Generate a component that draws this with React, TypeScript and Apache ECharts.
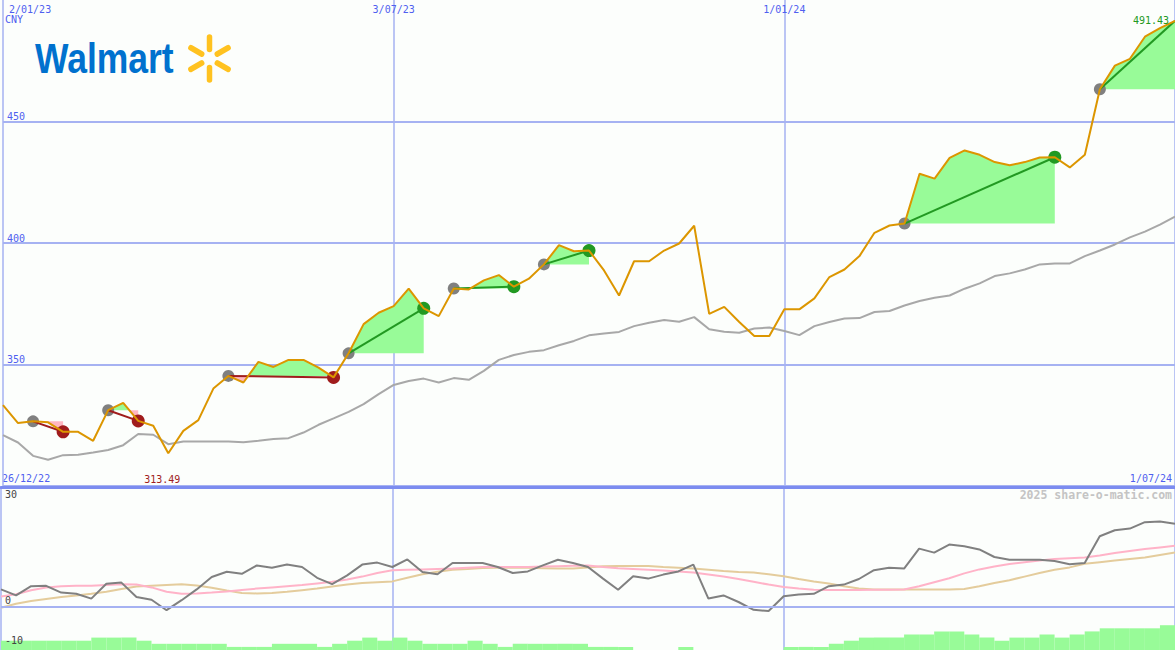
import React, { useEffect, useRef } from "react";
import * as echarts from "echarts";

// ---------- data ----------
const lastWeek = 78;
const tickWeeks = [0, 26, 52];
const topTickLabels = ["2/01/23", "3/07/23", "1/01/24"];
const startLabel = "26/12/22";
const endLabel = "1/07/24";
const currency = "CNY";
const watermark = "2025 share-o-matic.com";

const price = [
  333.3, 325.9, 326.6, 326.2, 322.3, 322.3, 318.6, 331.2, 334.2, 326.8,
  324.8, 313.49, 322.7, 327.1, 340.1, 345.3, 342.6, 351.1, 349.0, 351.9,
  351.9, 348.7, 344.7, 354.6, 366.6, 371.3, 374.0, 381.2, 373.1, 369.9,
  381.3, 380.9, 384.6, 386.8, 382.0, 385.3, 391.2, 399.1, 396.6, 396.9,
  388.7, 378.4, 392.5, 392.5, 396.9, 399.8, 407.1, 370.8, 373.7, 367.5,
  361.7, 361.7, 372.7, 372.7, 377.2, 386.0, 389.1, 394.6, 404.2, 407.2,
  408.0, 428.5, 426.5, 435.0, 438.1, 436.3, 433.3, 432.0, 433.3, 435.2,
  435.3, 431.1, 436.3, 463.3, 473.0, 475.8, 484.9, 488.4, 491.43,
];

const movingAvg = [
  320.9, 317.9, 312.4, 310.8, 312.7, 312.9, 313.8, 314.8, 316.8, 321.4,
  321.1, 317.2, 318.3, 318.3, 318.3, 318.3, 318.0, 318.6, 319.3, 319.7,
  322.0, 325.2, 327.8, 330.5, 333.7, 337.8, 341.6, 343.2, 344.2, 342.6,
  344.4, 343.7, 347.4, 351.9, 353.9, 355.2, 355.9, 357.9, 359.7, 362.0,
  362.8, 363.4, 365.8, 367.2, 368.3, 367.6, 369.5, 364.5, 363.5, 363.1,
  364.8, 365.2, 363.8, 362.1, 365.8, 367.5, 368.9, 369.1, 371.6, 372.0,
  374.3, 376.1, 377.5, 378.4, 381.2, 383.4, 386.4, 387.5, 389.1, 391.2,
  391.6, 391.6, 394.6, 396.9, 399.4, 402.3, 404.7, 407.6, 410.9,
];

const oscillator = [
  4.4, 2.9, 5.2, 5.3, 3.6, 3.3, 2.1, 5.8, 6.1, 2.5,
  1.8, -0.8, 1.7, 4.4, 7.5, 8.8, 8.3, 10.4, 9.8, 10.6,
  10.0, 7.3, 5.7, 7.9, 10.6, 11.1, 10.0, 11.9, 8.75, 8.2,
  11.0, 11.0, 11.0, 10.0, 8.5, 8.9, 10.4, 11.8, 11.0, 10.0,
  7.1, 4.3, 7.7, 7.1, 8.1, 8.9, 10.6, 2.1, 2.9, 1.25,
  -0.7, -1.0, 2.7, 3.1, 3.3, 5.2, 5.6, 7.0, 9.2, 9.8,
  9.6, 14.6, 13.6, 15.6, 15.2, 14.4, 12.5, 11.8, 11.8, 11.8,
  11.5, 10.7, 11.0, 17.7, 19.2, 19.6, 21.2, 21.4, 20.8,
];

const oscPink = [
  2.6, 3.2, 4.2, 4.9, 5.2, 5.3, 5.3, 5.5, 5.7, 5.6,
  4.9, 3.8, 3.3, 3.4, 3.6, 3.9, 4.25, 4.6, 4.9, 5.2,
  5.5, 5.9, 6.3, 6.9, 7.6, 8.5, 9.2, 9.3, 9.4, 9.5,
  9.6, 9.8, 10.0, 10.0, 10.0, 10.0, 10.1, 10.2, 10.3, 10.4,
  10.0, 9.7, 9.5, 9.3, 9.1, 8.9, 8.6, 8.1, 7.6, 7.0,
  6.3, 5.6, 5.0, 4.6, 4.3, 4.25, 4.25, 4.25, 4.3, 4.3,
  4.4, 5.2, 6.2, 7.2, 8.4, 9.4, 10.1, 10.75, 11.2, 11.6,
  12.0, 12.2, 12.4, 12.9, 13.5, 14.0, 14.5, 14.9, 15.3,
];

const oscTan = [
  -0.2, 0.8, 1.5, 2.0, 2.5, 2.9, 3.3, 3.8, 4.5, 5.1,
  5.3, 5.5, 5.7, 5.4, 4.8, 4.1, 3.5, 3.4, 3.5, 3.8,
  4.2, 4.6, 5.1, 5.6, 6.0, 6.2, 6.4, 7.3, 8.2, 8.8,
  9.3, 9.5, 9.75, 9.8, 9.8, 9.8, 9.7, 9.6, 9.6, 9.9,
  10.2, 10.25, 10.25, 10.25, 10.0, 9.8, 9.6, 9.3, 9.0, 8.75,
  8.6, 8.2, 7.7, 7.0, 6.4, 5.9, 5.2, 4.6, 4.4, 4.4,
  4.4, 4.4, 4.4, 4.4, 4.5, 5.2, 6.0, 6.7, 7.6, 8.5,
  9.3, 9.9, 10.8, 11.2, 11.6, 12.0, 12.4, 13.0, 13.6,
];

const barLevels = [
  3, 3, 3, 3, 3, 3, 4, 4, 4, 3,
  2, 2, 2, 2, 2, 1, 1, 1, 2, 2,
  2, 1, 2, 3, 4, 3, 4, 3, 2, 2,
  2, 3, 2, 1, 2, 2, 2, 2, 2, 1,
  1, 1, 0, 0, 0, 1, 0, 0, 0, 0,
  0, 0, 1, 1, 1, 2, 3, 4, 4, 4,
  5, 5, 6, 6, 5, 4, 3, 4, 4, 5,
  4, 5, 6, 7, 7, 7, 7, 8,
];

const tradeEntries = [2, 7, 15, 23, 30, 36, 60, 73];
const tradeExits = [4, 9, 22, 28, 34, 39, 70, 78];
const tradeClosed = [true, true, true, true, true, true, true, false];

// ---------- styles ----------
const FONT = '"DejaVu Sans Mono", monospace';
const BLUE_TEXT = "#4f5ff0";
const GRID_COLOR = "#a6b2f2";
const SEP_COLOR = "#7c8cf0";
const PRICE_COLOR = "#dc9600";
const MA_COLOR = "#a8a8a8";
const GREEN_FILL = "#98fb98";
const PINK_FILL = "#ffb6c1";
const LOSS_COLOR = "#a01c1c";
const GAIN_COLOR = "#229922";
const ENTRY_COLOR = "#808080";
const PRICE_MIN = 300;
const PRICE_MAX = 500;
const OSC_MIN = -10.75;
const OSC_MAX = 30;
const BAR_AXIS_MAX = 52.6;

function buildOption(): any {
  const pairs = (arr: number[]) => arr.map((v, i) => [i, v]);

  const tradeData = tradeEntries.map((e, j) => [e, tradeExits[j], j]);

  const fillItem = (params: any, api: any) => {
    const e = api.value(0);
    const x = api.value(1);
    const P = price[e];
    const up: number[][] = [[e, P]];
    const dn: number[][] = [[e, P]];
    for (let k = e; k <= x; k++) {
      const p = price[k];
      up.push([k, Math.max(p, P)]);
      dn.push([k, Math.min(p, P)]);
      if (k < x) {
        const q = price[k + 1];
        if ((p - P) * (q - P) < 0) {
          const t = (P - p) / (q - p);
          up.push([k + t, P]);
          dn.push([k + t, P]);
        }
      }
    }
    up.push([x, P]);
    dn.push([x, P]);
    return {
      type: "group",
      children: [
        { type: "polygon", shape: { points: up.map((pt) => api.coord(pt)) }, style: { fill: GREEN_FILL } },
        { type: "polygon", shape: { points: dn.map((pt) => api.coord(pt)) }, style: { fill: PINK_FILL } },
      ],
    };
  };

  const connectorItem = (params: any, api: any) => {
    const e = api.value(0);
    const x = api.value(1);
    const j = api.value(2);
    const a = api.coord([e, price[e]]);
    const b = api.coord([x, price[x]]);
    const loss = tradeClosed[j] && price[x] < price[e];
    return {
      type: "line",
      shape: { x1: a[0], y1: a[1], x2: b[0], y2: b[1] },
      style: { stroke: loss ? LOSS_COLOR : GAIN_COLOR, lineWidth: 2 },
    };
  };

  let minIdx = 0;
  let maxIdx = 0;
  price.forEach((v, i) => {
    if (v < price[minIdx]) minIdx = i;
    if (v > price[maxIdx]) maxIdx = i;
  });
  const extremeData = [
    [minIdx, price[minIdx], 0],
    [maxIdx, price[maxIdx], 1],
  ];
  const extremeItem = (params: any, api: any) => {
    const i = api.value(0);
    const v = api.value(1);
    const kind = api.value(2);
    const pt = api.coord([i, v]);
    const label = v.toFixed(2);
    if (kind === 0) {
      const bottom = api.coord([i, PRICE_MIN]);
      return {
        type: "text",
        style: {
          x: pt[0] - 6,
          y: bottom[1] - 7,
          text: label,
          fill: LOSS_COLOR,
          font: `10px ${FONT}`,
          align: "center",
          verticalAlign: "middle",
        },
      };
    }
    return {
      type: "text",
      style: {
        x: pt[0] - 6,
        y: pt[1],
        text: label,
        fill: GAIN_COLOR,
        font: `10px ${FONT}`,
        align: "right",
        verticalAlign: "middle",
      },
    };
  };

  const barItem = (params: any, api: any) => {
    const i = api.value(0);
    const lvl = api.value(1);
    if (!lvl) return null;
    const a = api.coord([i, lvl]);
    const b = api.coord([i + 1, 0]);
    return {
      type: "rect",
      shape: { x: a[0], y: a[1], width: b[0] - a[0], height: b[1] - a[1] },
      style: { fill: GREEN_FILL },
    };
  };

  const entryDots = tradeEntries.map((e) => [e, price[e]]);
  const exitDots = tradeExits
    .map((x, j) => ({ x, j }))
    .filter((d) => tradeClosed[d.j])
    .map((d) => ({
      value: [d.x, price[d.x]],
      itemStyle: {
        color: price[d.x] < price[tradeEntries[d.j]] ? LOSS_COLOR : GAIN_COLOR,
        opacity: 1,
      },
    }));

  const sparkAngles = [-90, -30, 30, 90, 150, 210];

  return {
    animation: false,
    backgroundColor: "#fcfefc",
    textStyle: { fontFamily: FONT },
    grid: [
      { left: 1, right: 0, top: -1, height: 487 },
      { left: 1, right: 0, top: 487, height: 163 },
    ],
    xAxis: [
      {
        gridIndex: 0,
        type: "value",
        min: 0,
        max: lastWeek,
        interval: 26,
        position: "top",
        axisLine: { show: false },
        axisTick: { show: false },
        axisLabel: {
          inside: true,
          margin: 4,
          color: BLUE_TEXT,
          fontFamily: FONT,
          fontSize: 10,
          verticalAlign: "top",
          showMaxLabel: false,
          alignMinLabel: "left",
          formatter: (v: number) => {
            const k = tickWeeks.indexOf(Math.round(v));
            if (k < 0) return "";
            return k === 0 ? " " + topTickLabels[k] : topTickLabels[k];
          },
        },
        splitLine: { show: true, lineStyle: { color: GRID_COLOR, width: 1.5 } },
      },
      {
        gridIndex: 1,
        type: "value",
        min: 0,
        max: lastWeek,
        interval: 26,
        position: "top",
        axisLine: { show: true, onZero: false, lineStyle: { color: SEP_COLOR, width: 3 } },
        axisTick: { show: false },
        axisLabel: { show: false },
        splitLine: { show: true, lineStyle: { color: GRID_COLOR, width: 1.5 } },
      },
    ],
    yAxis: [
      {
        gridIndex: 0,
        type: "value",
        min: PRICE_MIN,
        max: PRICE_MAX,
        interval: 50,
        axisLine: { show: false },
        axisTick: { show: false },
        axisLabel: {
          inside: true,
          margin: 4,
          color: BLUE_TEXT,
          fontFamily: FONT,
          fontSize: 10,
          verticalAlign: "bottom",
          showMinLabel: false,
          showMaxLabel: false,
        },
        splitLine: {
          show: true,
          lineStyle: {
            color: [GRID_COLOR, GRID_COLOR, GRID_COLOR, GRID_COLOR, "rgba(0,0,0,0)"],
            width: 2,
          },
        },
      },
      {
        gridIndex: 1,
        type: "value",
        min: OSC_MIN,
        max: OSC_MAX,
        axisLine: { show: false },
        axisTick: { show: false },
        axisLabel: { show: false },
        splitLine: { show: false },
      },
      {
        gridIndex: 1,
        type: "value",
        min: 0,
        max: BAR_AXIS_MAX,
        show: false,
        splitLine: { show: false },
      },
    ],
    series: [
      {
        type: "custom",
        name: "trade fills",
        xAxisIndex: 0,
        yAxisIndex: 0,
        renderItem: fillItem,
        data: tradeData,
        encode: { x: 0, y: 1 },
        z: 1,
        silent: true,
      },
      {
        type: "line",
        name: "average",
        xAxisIndex: 0,
        yAxisIndex: 0,
        data: pairs(movingAvg),
        showSymbol: false,
        lineStyle: { color: MA_COLOR, width: 2 },
        z: 2,
        silent: true,
      },
      {
        type: "scatter",
        name: "entries",
        xAxisIndex: 0,
        yAxisIndex: 0,
        data: entryDots,
        symbolSize: 12,
        itemStyle: { color: ENTRY_COLOR, opacity: 1 },
        z: 3,
        silent: true,
      },
      {
        type: "scatter",
        name: "exits",
        xAxisIndex: 0,
        yAxisIndex: 0,
        data: exitDots,
        symbolSize: 13,
        itemStyle: { opacity: 1 },
        z: 3,
        silent: true,
      },
      {
        type: "custom",
        name: "trade lines",
        xAxisIndex: 0,
        yAxisIndex: 0,
        renderItem: connectorItem,
        data: tradeData,
        encode: { x: 0, y: 1 },
        z: 4,
        silent: true,
      },
      {
        type: "line",
        name: "price",
        xAxisIndex: 0,
        yAxisIndex: 0,
        data: pairs(price),
        showSymbol: false,
        lineStyle: { color: PRICE_COLOR, width: 2 },
        z: 5,
        silent: true,
      },
      {
        type: "custom",
        name: "extremes",
        xAxisIndex: 0,
        yAxisIndex: 0,
        renderItem: extremeItem,
        data: extremeData,
        encode: { x: 0, y: 1 },
        clip: false,
        z: 6,
        silent: true,
      },
      {
        type: "custom",
        name: "bars",
        xAxisIndex: 1,
        yAxisIndex: 2,
        renderItem: barItem,
        data: pairs(barLevels),
        encode: { x: 0, y: 1 },
        z: 1,
        silent: true,
      },
      {
        type: "line",
        name: "tan",
        xAxisIndex: 1,
        yAxisIndex: 1,
        data: pairs(oscTan),
        showSymbol: false,
        lineStyle: { color: "#e4cc9c", width: 2 },
        z: 2,
        silent: true,
      },
      {
        type: "line",
        name: "pink",
        xAxisIndex: 1,
        yAxisIndex: 1,
        data: pairs(oscPink),
        showSymbol: false,
        lineStyle: { color: "#ffb3c8", width: 2 },
        z: 3,
        silent: true,
      },
      {
        type: "line",
        name: "oscillator",
        xAxisIndex: 1,
        yAxisIndex: 1,
        data: pairs(oscillator),
        showSymbol: false,
        lineStyle: { color: "#808080", width: 2 },
        z: 4,
        silent: true,
        markLine: {
          silent: true,
          symbol: ["none", "none"],
          label: { color: "#444", fontFamily: FONT, fontSize: 10, distance: [4, 2] },
          data: [
            { yAxis: 0, lineStyle: { color: GRID_COLOR, width: 2, type: "solid" }, label: { formatter: "0", position: "insideStartTop" } },
            { yAxis: 30, lineStyle: { color: "rgba(0,0,0,0)", width: 0, type: "solid" }, label: { formatter: "30", position: "insideStartBottom" } },
            { yAxis: -10, lineStyle: { color: "rgba(0,0,0,0)", width: 0, type: "solid" }, label: { formatter: "-10", position: "insideStartTop" } },
          ],
        },
      },
    ],
    graphic: [
      { type: "text", left: 5, top: 14, style: { text: currency, fill: BLUE_TEXT, font: `10px ${FONT}` } },
      { type: "text", left: 2, top: 473, style: { text: startLabel, fill: BLUE_TEXT, font: `10px ${FONT}` } },
      { type: "text", right: 3, top: 473, style: { text: endLabel, fill: BLUE_TEXT, font: `10px ${FONT}` } },
      { type: "text", right: 3, top: 489, style: { text: watermark, fill: "#c4c4c4", font: `bold 11.5px ${FONT}` } },
      {
        type: "text",
        x: 35,
        y: 58,
        scaleX: 0.845,
        style: {
          text: "Walmart",
          fill: "#0071ce",
          font: 'bold 42px "Liberation Sans", Arial, sans-serif',
          align: "left",
          verticalAlign: "middle",
        },
      },
      {
        type: "group",
        x: 209.5,
        y: 58.5,
        children: sparkAngles.map((deg) => {
          const r = (deg * Math.PI) / 180;
          return {
            type: "line",
            shape: { x1: 9 * Math.cos(r), y1: 9 * Math.sin(r), x2: 21.5 * Math.cos(r), y2: 21.5 * Math.sin(r) },
            style: { stroke: "#ffc220", lineWidth: 5.5, lineCap: "round" },
          };
        }),
      },
    ],
  };
}

export default function App() {
  const ref = useRef<HTMLDivElement>(null);
  useEffect(() => {
    if (!ref.current) return;
    const chart = echarts.init(ref.current, null, { renderer: "svg" });
    chart.setOption(buildOption());
    return () => chart.dispose();
  }, []);
  return (
    <div
      ref={ref}
      style={{ position: "fixed", left: 0, top: 0, width: 1175, height: 650 }}
    />
  );
}
